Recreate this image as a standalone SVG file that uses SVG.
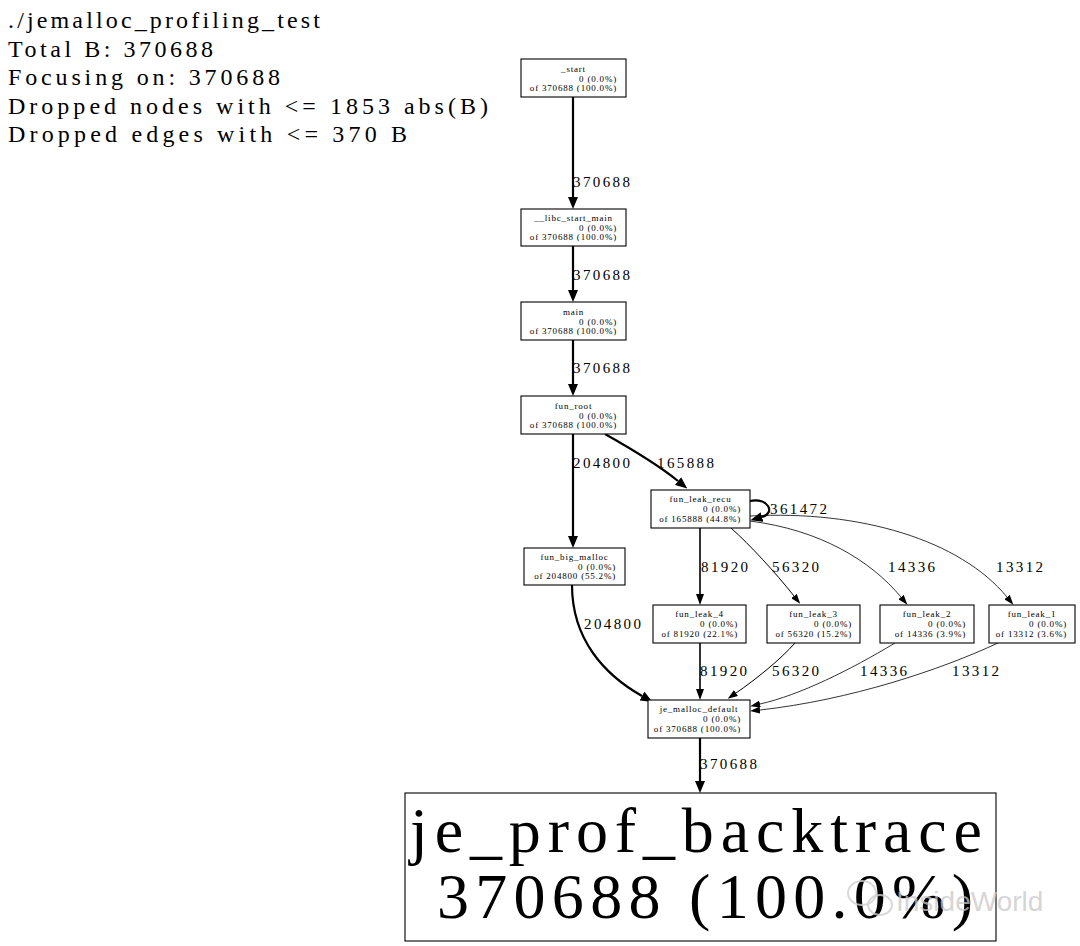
<svg xmlns="http://www.w3.org/2000/svg" width="1080" height="946" viewBox="0 0 1080 946">
<style>
  .hdr { font-family: "Liberation Serif", "Times New Roman", serif; font-size: 24px; fill: #000; }
  .box { fill: #fff; stroke: #000; stroke-width: 1.1; }
  .nt { font-family: "Liberation Serif", "Times New Roman", serif; font-size: 9px; letter-spacing: 0.8px; fill: #000; }
  .ntc { text-anchor: middle; }
  .ntr { text-anchor: end; }
  .lbl { font-family: "Liberation Serif", "Times New Roman", serif; font-size: 15px; letter-spacing: 2.4px; fill: #000; }
  .big { font-family: "Liberation Serif", "Times New Roman", serif; font-size: 64px; fill: #000; }
  .e { fill: none; stroke: #000; }
  .w3 { stroke-width: 2.2; marker-end: url(#ah3); }
  .w2 { stroke-width: 1.6; marker-end: url(#ah2); }
  .w1 { stroke-width: 1.0; marker-end: url(#ah1); }
  .w0 { stroke-width: 0.8; marker-end: url(#ah1); }
  .wm { font-family: "Liberation Sans", Arial, sans-serif; font-size: 28px; fill: #c8c8c8; fill-opacity: 0.75; }
</style>
<defs>
  <marker id="ah3" markerUnits="userSpaceOnUse" viewBox="0 0 12 10" refX="0" refY="5" markerWidth="12" markerHeight="10" orient="auto">
    <path d="M0,0 L12,5 L0,10 z" fill="#000"/>
  </marker>
  <marker id="ah2" markerUnits="userSpaceOnUse" viewBox="0 0 11 8" refX="0" refY="4" markerWidth="11" markerHeight="8" orient="auto">
    <path d="M0,0 L11,4 L0,8 z" fill="#000"/>
  </marker>
  <marker id="ah1" markerUnits="userSpaceOnUse" viewBox="0 0 10 7" refX="0" refY="3.5" markerWidth="10" markerHeight="7" orient="auto">
    <path d="M0,0 L10,3.5 L0,7 z" fill="#000"/>
  </marker>
</defs>
<rect width="1080" height="946" fill="#fff"/>

<g id="legend">
  <text class="hdr" x="8" y="28" textLength="312" lengthAdjust="spacing">./jemalloc_profiling_test</text>
  <text class="hdr" x="8" y="57" textLength="205" lengthAdjust="spacing">Total B: 370688</text>
  <text class="hdr" x="8" y="85" textLength="272" lengthAdjust="spacing">Focusing on: 370688</text>
  <text class="hdr" x="8" y="114" textLength="480" lengthAdjust="spacing">Dropped nodes with &lt;= 1853 abs(B)</text>
  <text class="hdr" x="8" y="142" textLength="399" lengthAdjust="spacing">Dropped edges with &lt;= 370 B</text>
</g>

<g id="edges">
  <path class="e w3" d="M573,97 V197"/>
  <text class="lbl" x="573" y="187">370688</text>
  <path class="e w3" d="M573,246 V290"/>
  <text class="lbl" x="573" y="280">370688</text>
  <path class="e w3" d="M573,340 V384"/>
  <text class="lbl" x="573" y="373">370688</text>
  <path class="e w3" d="M573,434 V536"/>
  <text class="lbl" x="573" y="468">204800</text>
  <path class="e w3" d="M605,434 C628,447 656,463 678,481"/>
  <text class="lbl" x="657" y="468">165888</text>
  <path class="e w3" d="M750,501 C768,497 776,513 762,517"/>
  <text class="lbl" x="770" y="514">361472</text>
  <path class="e w2" d="M700,528 V594"/>
  <text class="lbl" x="701" y="572">81920</text>
  <path class="e w1" d="M731,528 C750,545 775,572 794,596"/>
  <text class="lbl" x="772" y="572">56320</text>
  <path class="e w0" d="M750,521 C820,530 870,560 901,597"/>
  <text class="lbl" x="888" y="572">14336</text>
  <path class="e w0" d="M750,516 C860,510 960,540 1007,597"/>
  <text class="lbl" x="996" y="572">13312</text>
  <path class="e w3" d="M572,585 C572,640 605,675 642,696"/>
  <text class="lbl" x="584" y="629">204800</text>
  <path class="e w2" d="M700,643 V689"/>
  <text class="lbl" x="700" y="676">81920</text>
  <path class="e w1" d="M795,643 C780,660 755,680 736,693"/>
  <text class="lbl" x="772" y="676">56320</text>
  <path class="e w0" d="M895,643 C850,670 800,695 760,704"/>
  <text class="lbl" x="860" y="676">14336</text>
  <path class="e w0" d="M998,643 C940,670 850,700 760,710"/>
  <text class="lbl" x="952" y="676">13312</text>
  <path class="e w3" d="M700,738 V781"/>
  <text class="lbl" x="700" y="769">370688</text>
</g>

<g id="n_start">
  <rect class="box" x="521" y="59" width="105" height="38"/>
  <text class="nt ntc" x="573.5" y="72">_start</text>
  <text class="nt ntr" x="617" y="82">0 (0.0%)</text>
  <text class="nt ntr" x="617" y="91">of 370688 (100.0%)</text>
</g>
<g id="n_libc_start_main">
  <rect class="box" x="521" y="209" width="105" height="37"/>
  <text class="nt ntc" x="573.5" y="221">__libc_start_main</text>
  <text class="nt ntr" x="617" y="231">0 (0.0%)</text>
  <text class="nt ntr" x="617" y="240">of 370688 (100.0%)</text>
</g>
<g id="n_main">
  <rect class="box" x="521" y="302" width="105" height="38"/>
  <text class="nt ntc" x="573.5" y="315">main</text>
  <text class="nt ntr" x="617" y="325">0 (0.0%)</text>
  <text class="nt ntr" x="617" y="334">of 370688 (100.0%)</text>
</g>
<g id="n_fun_root">
  <rect class="box" x="521" y="396" width="105" height="38"/>
  <text class="nt ntc" x="573.5" y="409">fun_root</text>
  <text class="nt ntr" x="617" y="419">0 (0.0%)</text>
  <text class="nt ntr" x="617" y="428">of 370688 (100.0%)</text>
</g>
<g id="n_fun_leak_recu">
  <rect class="box" x="651" y="490" width="99" height="38"/>
  <text class="nt ntc" x="700.5" y="502">fun_leak_recu</text>
  <text class="nt ntr" x="741" y="512">0 (0.0%)</text>
  <text class="nt ntr" x="741" y="522">of 165888 (44.8%)</text>
</g>
<g id="n_fun_big_malloc">
  <rect class="box" x="524" y="548" width="101" height="37"/>
  <text class="nt ntc" x="574.5" y="560">fun_big_malloc</text>
  <text class="nt ntr" x="616" y="570">0 (0.0%)</text>
  <text class="nt ntr" x="616" y="579">of 204800 (55.2%)</text>
</g>
<g id="n_fun_leak_4">
  <rect class="box" x="653" y="605" width="93" height="38"/>
  <text class="nt ntc" x="699.5" y="617">fun_leak_4</text>
  <text class="nt ntr" x="738" y="627">0 (0.0%)</text>
  <text class="nt ntr" x="738" y="637">of 81920 (22.1%)</text>
</g>
<g id="n_fun_leak_3">
  <rect class="box" x="767" y="605" width="93" height="38"/>
  <text class="nt ntc" x="813.5" y="617">fun_leak_3</text>
  <text class="nt ntr" x="852" y="627">0 (0.0%)</text>
  <text class="nt ntr" x="852" y="637">of 56320 (15.2%)</text>
</g>
<g id="n_fun_leak_2">
  <rect class="box" x="880" y="605" width="94" height="38"/>
  <text class="nt ntc" x="927" y="617">fun_leak_2</text>
  <text class="nt ntr" x="966" y="627">0 (0.0%)</text>
  <text class="nt ntr" x="966" y="637">of 14336 (3.9%)</text>
</g>
<g id="n_fun_leak_1">
  <rect class="box" x="989" y="605" width="86" height="38"/>
  <text class="nt ntc" x="1032" y="617">fun_leak_1</text>
  <text class="nt ntr" x="1067" y="627">0 (0.0%)</text>
  <text class="nt ntr" x="1067" y="637">of 13312 (3.6%)</text>
</g>
<g id="n_je_malloc_default">
  <rect class="box" x="648" y="700" width="102" height="38"/>
  <text class="nt ntc" x="699" y="712">je_malloc_default</text>
  <text class="nt ntr" x="741" y="722">0 (0.0%)</text>
  <text class="nt ntr" x="741" y="732">of 370688 (100.0%)</text>
</g>
<g id="n_je_prof_backtrace">
  <rect class="box" x="405" y="793" width="591" height="148"/>
  <text class="big" x="410" y="852" textLength="572" lengthAdjust="spacing">je_prof_backtrace</text>
  <text class="big" x="437" y="918" textLength="536" lengthAdjust="spacing">370688 (100.0%)</text>
</g>

<g id="watermark">
  <ellipse cx="862" cy="893" rx="14" ry="12" fill="none" stroke="#d0d0d0" stroke-width="2" stroke-opacity="0.8"/>
  <ellipse cx="880" cy="905" rx="12" ry="10" fill="none" stroke="#d0d0d0" stroke-width="2" stroke-opacity="0.8"/>
  <text class="wm" x="896" y="911">InsideWorld</text>
</g>
</svg>
